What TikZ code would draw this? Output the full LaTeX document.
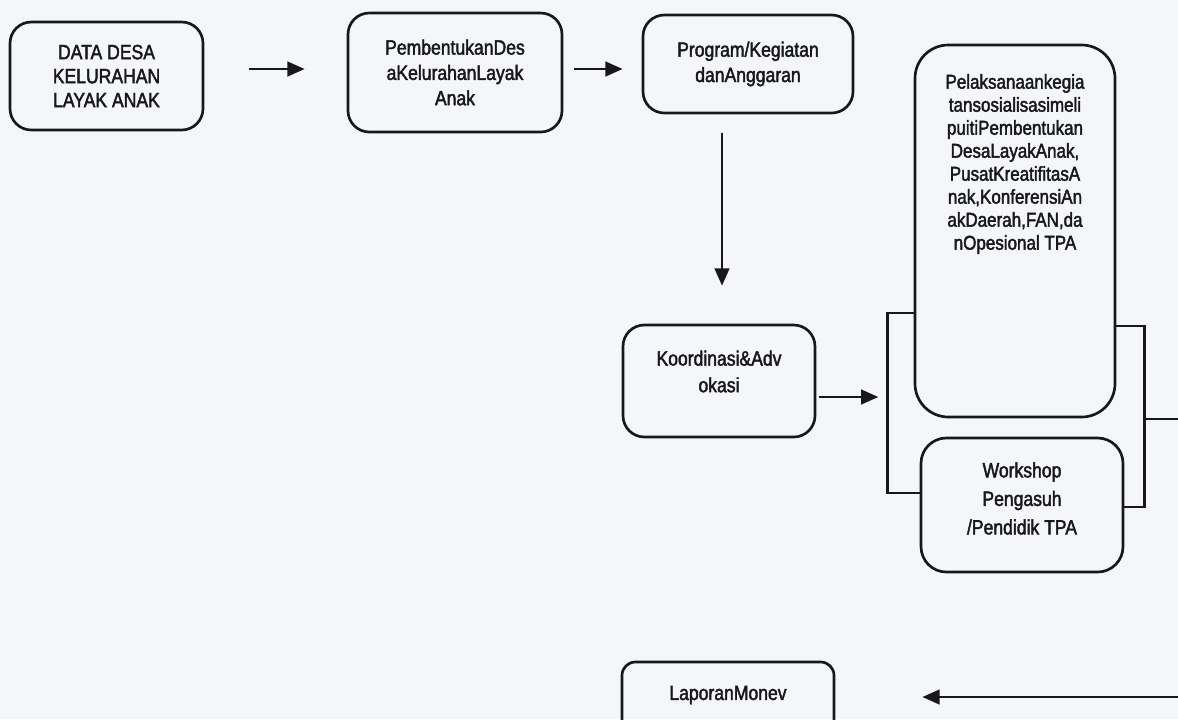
\documentclass[tikz,border=0pt]{standalone}
\usepackage{fontspec}
\setmainfont{Liberation Sans}
\newfontfamily\boxfont{Liberation Sans}[FakeStretch=0.85,FakeBold=2]
\usetikzlibrary{arrows.meta,calc}
\definecolor{ink}{RGB}{24,24,26}
\definecolor{paper}{RGB}{244,246,248}
\tikzset{
  px/.style 2 args={minimum width=#1*0.75pt, minimum height=#2*0.75pt},
  box/.style={draw=ink, line width=2pt, rounded corners=16pt, align=center,
              inner sep=0pt, text=ink},
  lbl/.style={align=center, inner sep=0pt, text=ink},
  arr/.style={draw=ink, line width=1.9pt, -{Triangle[length=13pt,width=11pt]}},
  link/.style={draw=ink, line width=2pt},
}
\begin{document}
\begin{tikzpicture}[x=0.75pt,y=-0.75pt]
\path[use as bounding box] (0,0) rectangle (1178,719);
\clip (0,0) rectangle (1178,719);
\fill[paper] (0,0) rectangle (1178,719);

% top row
\node[box, px={193}{108}, font=\boxfont\fontsize{15.5}{18}\selectfont] (data) at (106.5,76)
  {DATA DESA\\KELURAHAN\\LAYAK ANAK};
\node[box, px={214}{119}, font=\boxfont\fontsize{15.5}{19}\selectfont] (pemb) at (455,72.5)
  {PembentukanDes\\aKelurahanLayak\\Anak};
\node[box, px={210}{98}, font=\boxfont\fontsize{15.5}{19}\selectfont] (prog) at (748,64)
  {Program/Kegiatan\\danAnggaran};

% middle
\node[box, px={192}{112}] (koord) at (719,381) {};
\node[lbl, font=\boxfont\fontsize{15.5}{20}\selectfont] (koord-t) at (719,371.5)
  {Koordinasi\&Adv\\okasi};

\node[box, px={200}{372}, rounded corners=25pt] (pel) at (1015,231) {};
\node[lbl, font=\boxfont\fontsize{15}{17.25}\selectfont] (pel-t) at (1015,164)
  {Pelaksanaankegia\\tansosialisasimeli\\puitiPembentukan\\DesaLayakAnak,\\PusatKreatifitasA\\nak,KonferensiAn\\akDaerah,FAN,da\\nOpesional TPA};

\node[box, px={202}{134}, rounded corners=19pt] (work) at (1022,505) {};
\node[lbl, font=\boxfont\fontsize{15.5}{21.4}\selectfont] (work-t) at (1022,498.5)
  {Workshop\\Pengasuh\\/Pendidik TPA};

% bottom
\node[box, px={212}{78}, rounded corners=10pt] (lap) at (728,701) {};
\node[lbl, font=\boxfont\fontsize{15.5}{19}\selectfont] (lap-t) at (728,695) {LaporanMonev};

% connectors
\draw[arr] ($(data.east)+(45,-7)$) -- ($(pemb.west)+(-42,-3.5)$);
\draw[arr] ($(pemb.east)+(11,-3.5)$) -- ($(prog.west)+(-19,5)$);
\draw[arr] ($(prog.south)+(-26,19)$) -- ($(koord.north)+(3,-38)$);
\draw[arr] ($(koord.east)+(3,16)$) -- ($(koord.east)+(62,16)$);

% brackets joining the two activity boxes
\draw[link] ($(pel.west)+(0,82)$) -- ++(-26,0) |- ($(work.west)+(0,-12)$);
\draw[link] ($(pel.east)+(0,95)$) -- ++(28,0) |- ($(work.east)+(0,2)$);
\coordinate (rbm) at ($(pel.east)+(28,188)$);
\draw[arr] (rbm) -- ++(60,0) |- ($(lap.east)+(87,-4)$);
\end{tikzpicture}
\end{document}
